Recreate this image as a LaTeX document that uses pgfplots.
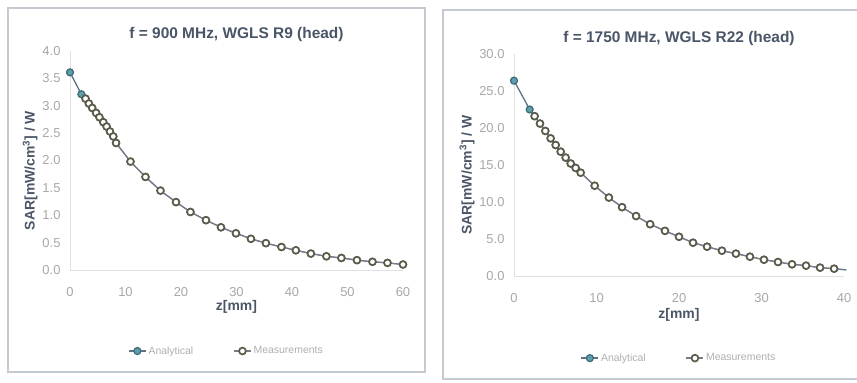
\documentclass[border=0pt]{standalone}
\usepackage{pgfplots}
\pgfplotsset{compat=1.18}
\usepackage{fontspec}
\setmainfont{Liberation Sans}
\definecolor{titlec}{HTML}{4A5668}
\definecolor{tickc}{HTML}{A8A8A8}
\definecolor{linec}{HTML}{5E7484}
\definecolor{anafill}{HTML}{5E9DAA}
\definecolor{anadraw}{HTML}{3E6A78}
\definecolor{measdraw}{HTML}{5C5A48}
\definecolor{measline}{HTML}{7F7888}
\definecolor{framec}{HTML}{C4C9D2}
\definecolor{legc}{HTML}{B0B0B0}
\begin{document}
\begin{tikzpicture}
\useasboundingbox (0bp,0bp) rectangle (857bp,383bp);
\fill[white] (0bp,0bp) rectangle (857bp,383bp);
\draw[framec,line width=1.2bp] (8bp,11bp) rectangle (425bp,375bp);
\draw[framec,line width=1.2bp] (443bp,4bp) rectangle (860bp,373bp);
\pgfplotsset{
  every axis/.append style={
    scale only axis,
    anchor=south west,
    axis line style={draw=black!12},
    axis x line*=bottom, axis y line*=left,
    major tick length=0pt,
    tick label style={text=tickc,font=\fontsize{13}{15}\selectfont},
    xticklabel style={anchor=center,yshift=-22bp},
    yticklabel style={xshift=-6bp},
    /pgf/number format/assume math mode=true,
    title style={text=titlec,font=\bfseries\fontsize{15.5}{18}\selectfont},
    label style={text=titlec,font=\bfseries\fontsize{14}{16}\selectfont},
    xlabel style={at={(axis description cs:0.5,0)},anchor=center},
    ylabel style={xshift=-10bp,yshift=-2bp},
    legend style={draw=none,fill=none,font=\fontsize{10.5}{12}\selectfont,text=legc,
      legend columns=2,/tikz/every even column/.append style={column sep=38bp}},
    legend cell align=left,
    legend image post style={line width=1.3bp},
    clip=false,
  },
}
\begin{axis}[
  at={(70bp,113bp)}, width=333bp, height=219bp,
  xmin=0, xmax=60, ymin=0, ymax=4,
  xtick={0,10,...,60}, ytick={0,0.5,...,4},
  yticklabel style={/pgf/number format/fixed,/pgf/number format/fixed zerofill,/pgf/number format/precision=1},
  title={f = 900 MHz, WGLS R9 (head)},
  title style={yshift=0bp},
  xlabel={z[mm]}, xlabel style={yshift=-37bp},
  ylabel={SAR[mW/cm$^{\mathbf{3}}$] / W},
  legend style={at={(0.47,-0.37)},anchor=center},
]
\addplot[color=linec,line width=1.3bp,mark=*,mark size=3.5bp,mark options={fill=anafill,draw=anadraw,line width=1.2bp}] coordinates {
(0,3.61) (2.05,3.21) (2.8,3.13) (3.4,3.04) (4.0,2.96) (4.7,2.87) (5.3,2.79) (6.0,2.70) (6.6,2.62) (7.2,2.53) (7.8,2.44) (8.3,2.32)
(10.9,1.98) (13.6,1.70) (16.3,1.45) (19.1,1.24) (21.7,1.06) (24.5,0.91) (27.2,0.78) (29.9,0.67) (32.6,0.57) (35.3,0.49)
(38.1,0.42) (40.7,0.36) (43.4,0.30) (46.2,0.25) (48.9,0.22) (51.7,0.18) (54.5,0.15) (57.2,0.13) (60,0.10)};
\addlegendentry{Analytical}
\addplot[color=measline,line width=1.0bp,mark=*,mark size=3.4bp,mark options={fill=white,draw=measdraw,line width=1.7bp}] coordinates {
(2.8,3.13) (3.4,3.04) (4.0,2.96) (4.7,2.87) (5.3,2.79) (6.0,2.70) (6.6,2.62) (7.2,2.53) (7.8,2.44) (8.3,2.32)
(10.9,1.98) (13.6,1.70) (16.3,1.45) (19.1,1.24) (21.7,1.06) (24.5,0.91) (27.2,0.78) (29.9,0.67) (32.6,0.57) (35.3,0.49)
(38.1,0.42) (40.7,0.36) (43.4,0.30) (46.2,0.25) (48.9,0.22) (51.7,0.18) (54.5,0.15) (57.2,0.13) (60,0.10)};
\addlegendentry{Measurements}
\end{axis}
\begin{axis}[
  at={(514bp,107bp)}, width=330bp, height=222bp,
  xmin=0, xmax=40, ymin=0, ymax=30,
  xtick={0,10,...,40}, ytick={0,5,...,30},
  yticklabel style={/pgf/number format/fixed,/pgf/number format/fixed zerofill,/pgf/number format/precision=1},
  title={f = 1750 MHz, WGLS R22 (head)},
  title style={yshift=-1bp},
  xlabel={z[mm]}, xlabel style={yshift=-39bp},
  ylabel={SAR[mW/cm$^{\mathbf{3}}$] / W},
  legend style={at={(0.5,-0.37)},anchor=center},
]
\addplot[color=linec,line width=1.3bp,mark=*,mark size=3.5bp,mark options={fill=anafill,draw=anadraw,line width=1.2bp}] coordinates {
(0,26.4) (1.9,22.5) (2.5,21.6) (3.15,20.6) (3.8,19.6) (4.44,18.6) (5.05,17.7) (5.66,16.8) (6.26,16.0) (6.87,15.2) (7.47,14.6) (8.08,13.96)
(9.78,12.2) (11.5,10.6) (13.1,9.3) (14.8,8.1) (16.5,7.0) (18.3,6.1) (20.0,5.3) (21.7,4.5) (23.4,3.96) (25.2,3.42)
(26.9,3.02) (28.6,2.61) (30.3,2.2) (32.0,1.89) (33.7,1.58) (35.4,1.40) (37.1,1.13) (38.8,0.99)};
\addlegendentry{Analytical}
\addplot[color=measline,line width=1.0bp,mark=*,mark size=3.4bp,mark options={fill=white,draw=measdraw,line width=1.7bp}] coordinates {
(2.5,21.6) (3.15,20.6) (3.8,19.6) (4.44,18.6) (5.05,17.7) (5.66,16.8) (6.26,16.0) (6.87,15.2) (7.47,14.6) (8.08,13.96)
(9.78,12.2) (11.5,10.6) (13.1,9.3) (14.8,8.1) (16.5,7.0) (18.3,6.1) (20.0,5.3) (21.7,4.5) (23.4,3.96) (25.2,3.42)
(26.9,3.02) (28.6,2.61) (30.3,2.2) (32.0,1.89) (33.7,1.58) (35.4,1.40) (37.1,1.13) (38.8,0.99)};
\addlegendentry{Measurements}
\addplot[color=linec,line width=1.3bp,forget plot] coordinates {(38.8,0.99) (40.3,0.82)};
\end{axis}
\end{tikzpicture}
\end{document}
